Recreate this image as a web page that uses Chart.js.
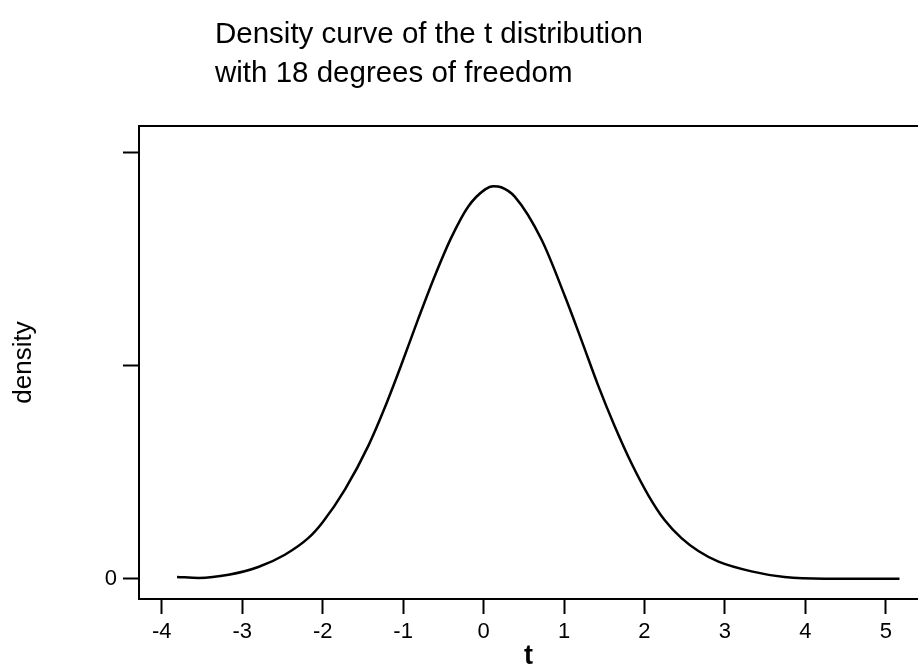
<!DOCTYPE html>
<html lang="en">
<head>
  <meta charset="UTF-8">
  <title>Density curve of the t distribution</title>
  <script src="https://cdn.jsdelivr.net/npm/chart.js"></script>
  <style>
    body {
      margin: 0;
      background: #fff;
      font-family: "Liberation Sans", Arial, sans-serif;
    }
    #wrap {
      position: relative;
      width: 918px;
      height: 670px;
    }
    #title {
      position: absolute;
      left: 215px;
      top: 13px;
      font-size: 29.5px;
      line-height: 39px;
      color: #000;
    }
    canvas {
      position: absolute;
      left: 0;
      top: 0;
    }
  </style>
</head>
<body>
  <div id="wrap">
    <canvas id="tChart" width="918" height="670"></canvas>
    <div id="title">Density curve of the t distribution<br>with 18 degrees of freedom</div>
  </div>

  <script>
    // values
    const tValues = [-3.81, -3.54, -3.17, -2.80, -2.47, -2.18, -2.00, -1.72, -1.43, -1.23,
                     -1.02, -0.81, -0.60, -0.40, -0.19, 0.02, 0.12, 0.22, 0.39, 0.72,
                     1.01, 1.22, 1.42, 1.63, 1.84, 2.05, 2.25, 2.46, 2.67, 2.92,
                     3.33, 3.74, 4.24, 5.17];
    const density = [0.0016, 0.0008, 0.0037, 0.011, 0.0225, 0.038, 0.053, 0.084, 0.125, 0.160,
                     0.201, 0.244, 0.285, 0.320, 0.349, 0.365, 0.368, 0.367, 0.358, 0.318,
                     0.265, 0.223, 0.182, 0.143, 0.108, 0.078, 0.055, 0.038, 0.026, 0.016,
                     0.0069, 0.0016, 0.0, 0.0];
    const xTicks = [-4, -3, -2, -1, 0, 1, 2, 3, 4, 5];
    const yTicks = [0, 0.2, 0.4];

    const points = tValues.map((t, i) => ({ x: t, y: density[i] }));

    // top edge of the frame
    const frameTop = {
      id: 'frameTop',
      afterDraw(chart) {
        const { ctx, chartArea } = chart;
        ctx.save();
        ctx.strokeStyle = '#000';
        ctx.lineWidth = 2;
        ctx.beginPath();
        ctx.moveTo(chartArea.left - 1, chartArea.top);
        ctx.lineTo(chartArea.right, chartArea.top);
        ctx.stroke();
        ctx.restore();
      }
    };

    new Chart(document.getElementById('tChart'), {
      type: 'line',
      data: {
        datasets: [{
          data: points,
          borderColor: '#000',
          borderWidth: 2.5,
          pointRadius: 0,
          cubicInterpolationMode: 'monotone',
          fill: false
        }]
      },
      options: {
        responsive: false,
        animation: false,
        layout: { padding: { top: 126, right: 0, left: 0, bottom: 0 } },
        plugins: {
          legend: { display: false },
          tooltip: { enabled: false }
        },
        scales: {
          x: {
            type: 'linear',
            min: -4.283,
            max: 5.4,
            afterFit: s => { s.height = 71; },
            afterBuildTicks: s => { s.ticks = xTicks.map(v => ({ value: v })); },
            ticks: {
              color: '#000',
              font: { family: 'Liberation Sans', size: 22 },
              padding: 5,
              maxRotation: 0
            },
            grid: {
              drawOnChartArea: false,
              tickLength: 15,
              tickColor: '#000',
              tickWidth: 2
            },
            border: { display: true, color: '#000', width: 2 },
            title: {
              display: true,
              text: 't',
              color: '#000',
              font: { family: 'Liberation Sans', size: 27, weight: 'bold', lineHeight: 1 },
              padding: 0
            }
          },
          y: {
            min: -0.019,
            max: 0.4244,
            afterFit: s => { s.width = 139; },
            afterBuildTicks: s => { s.ticks = yTicks.map(v => ({ value: v })); },
            ticks: {
              color: '#000',
              font: { family: 'Liberation Sans', size: 22 },
              padding: 6,
              callback: v => (Math.abs(v) < 1e-9 ? '0' : '')
            },
            grid: {
              drawOnChartArea: false,
              tickLength: 16,
              tickColor: '#000',
              tickWidth: 2
            },
            border: { display: true, color: '#000', width: 2 },
            title: {
              display: true,
              text: 'density',
              color: '#000',
              font: { family: 'Liberation Sans', size: 26, lineHeight: 1 },
              padding: 11
            }
          }
        }
      },
      plugins: [frameTop]
    });
  </script>
</body>
</html>
